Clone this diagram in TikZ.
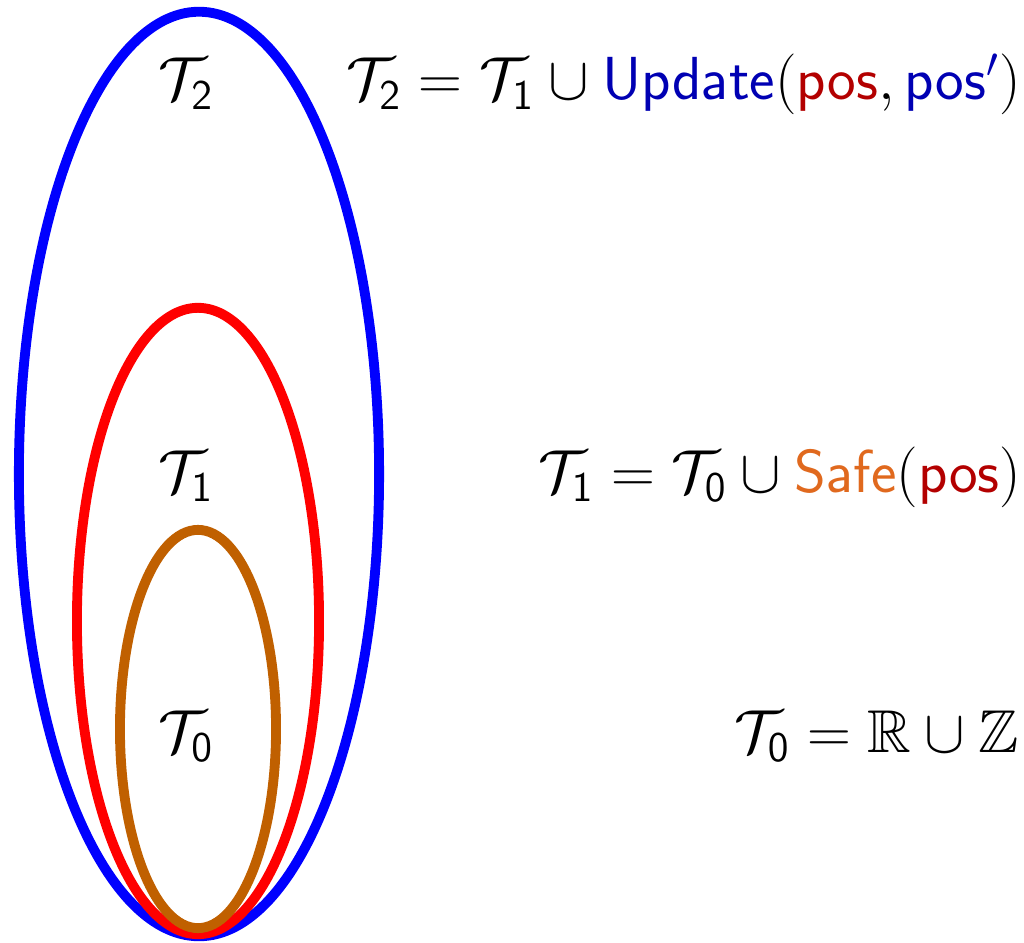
\documentclass[tikz,border=0pt]{standalone}
\usepackage{amsmath,amssymb}
\usepackage{xcolor}
\definecolor{setblue}{HTML}{0000FF}
\definecolor{setred}{HTML}{FF0000}
\definecolor{setbrown}{HTML}{C06000}
\definecolor{updblue}{HTML}{0000B3}
\definecolor{posred}{HTML}{B30000}
\definecolor{safeorange}{HTML}{E0691E}
\usetikzlibrary{positioning}
\tikzset{
  tl/.style={inner sep=0pt, font=\fontsize{17.2}{20}\selectfont, anchor=base},
  teq/.style={tl, anchor=base east},
  ring/.style={line width=2.8pt},
}
\newcommand{\Tset}[1]{\mathcal{T}_{\mathsf{#1}}}

\begin{document}
\begin{tikzpicture}[x=0.01cm, y=-0.01cm]
  \useasboundingbox (0,0) rectangle (1024,943);
  \draw[ring, setblue] (199,474) ellipse [x radius=1.80cm, y radius=4.62cm];
  \draw[ring, setred] (198,621) ellipse [x radius=1.21cm, y radius=3.13cm];
  \draw[ring, setbrown] (198,729) ellipse [x radius=0.78cm, y radius=1.99cm];
  \node[tl] (t2) at (186,100) {$\Tset{2}$};
  \node[tl] (t1) at (186,492) {$\Tset{1}$};
  \node[tl] (t0) at (186,752) {$\Tset{0}$};
  \node[teq] (e2) at (1022,100) {$\Tset{2} = \Tset{1} \cup \textcolor{updblue}{\mathsf{Update}}(\textcolor{posred}{\mathsf{pos}}, \textcolor{updblue}{\mathsf{pos}'})$};
  \node[teq] (e1) at (1022,492) {$\Tset{1} = \Tset{0} \cup \textcolor{safeorange}{\mathsf{Safe}}(\textcolor{posred}{\mathsf{pos}})$};
  \node[teq] (e0) at (1020,752) {$\Tset{0} = \mathbb{R} \cup \mathbb{Z}$};
\end{tikzpicture}
\end{document}
